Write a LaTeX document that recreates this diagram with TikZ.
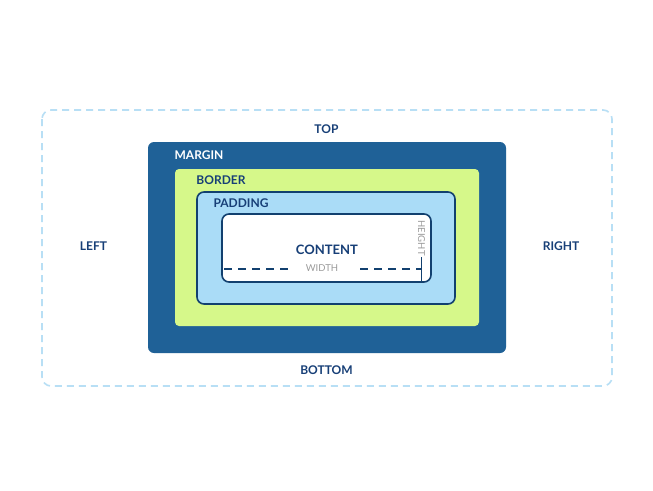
\documentclass[tikz,border=0pt]{standalone}
\usepackage{fontspec}
\setmainfont{Lato}
\definecolor{navy}{HTML}{173F77}
\definecolor{margincol}{HTML}{1F6197}
\definecolor{bordercol}{HTML}{D6F88A}
\definecolor{padcol}{HTML}{AADCF7}
\definecolor{edgecol}{HTML}{12406F}
\definecolor{dashcol}{HTML}{B8DFF5}
\definecolor{graycol}{HTML}{9A9A9A}
\begin{document}
\begin{tikzpicture}[x=1pt,y=-1pt,
  lbl/.style={font=\fontsize{12}{14}\selectfont\bfseries, text=navy, inner sep=0pt},
  small/.style={font=\fontsize{9.5}{11}\selectfont, text=graycol, inner sep=0pt}]
\useasboundingbox (0,0) rectangle (653,490);
\fill[white] (0,0) rectangle (653,490);
% outer dashed
\draw[dashcol, line width=1.6pt, dash pattern=on 7pt off 5pt, rounded corners=9pt] (42,110) rectangle (612,386);
% margin
\fill[margincol, rounded corners=6pt] (148,142) rectangle (506,353);
% border
\fill[bordercol, rounded corners=4pt] (175,169) rectangle (479,326);
% padding
\draw[edgecol, fill=padcol, line width=1.6pt, rounded corners=7pt] (197,192) rectangle (455,304);
% content
\draw[edgecol, fill=white, line width=1.6pt, rounded corners=7pt] (222,214) rectangle (431,282);
% labels
\node[lbl] (top) at (326.5,129) {TOP};
\node[lbl] (bottom) at (326.5,370) {BOTTOM};
\node[lbl] (left) at (93.5,246) {LEFT};
\node[lbl] (right) at (561,246) {RIGHT};
\node[lbl, text=white] (margin) at (199,155) {MARGIN};
\node[lbl] (border) at (221,180) {BORDER};
\node[lbl] (padding) at (241,203.5) {PADDING};
\node[lbl, font=\fontsize{13}{15}\selectfont\bfseries] (content) at (327,249.5) {CONTENT};
\node[small] (width) at (322,268.5) {WIDTH};
\node[small, rotate=-90] (height) at (421.5,238) {HEIGHT};
% width dashes
\coordinate (wl) at (224,269);
\coordinate (wm1) at (288,269);
\coordinate (wm2) at (360,269);
\coordinate (wr) at (421.5,269);
\draw[edgecol, line width=1.6pt, dash pattern=on 8pt off 6pt] (wl) -- (wm1);
\draw[edgecol, line width=1.6pt, dash pattern=on 8pt off 6pt] (wm2) -- (wr);
% height line
\coordinate (ht) at (421.5,257);
\coordinate (hb) at (421.5,281);
\draw[edgecol, line width=1.4pt] (ht) -- (hb);
\end{tikzpicture}
\end{document}
